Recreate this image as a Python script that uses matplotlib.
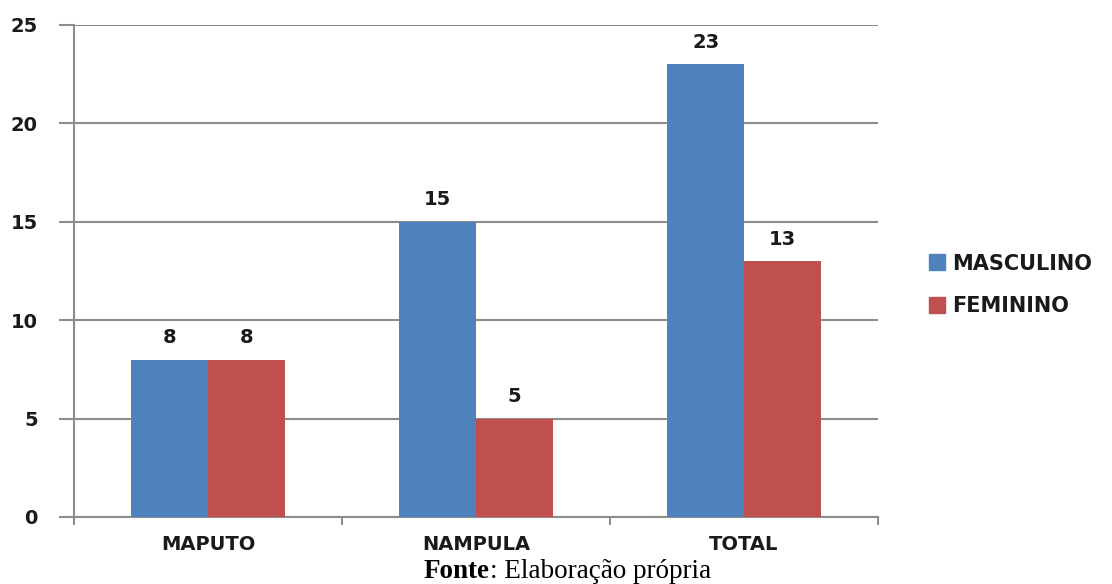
import matplotlib
matplotlib.use("Agg")
import matplotlib.pyplot as plt
import numpy as np
from matplotlib.patches import Patch

categories = ["MAPUTO", "NAMPULA", "TOTAL"]
masculino = [8, 15, 23]
feminino = [8, 5, 13]
series_names = ["MASCULINO", "FEMININO"]
yticks = [0, 5, 10, 15, 20, 25]

blue = "#4F81BD"
red = "#C0504D"
grid_c = "#8c8c8c"
txt_c = "#1a1a1a"
fs = 14

fig = plt.figure(figsize=(11.12, 5.84), dpi=100)
ax = fig.add_axes([74/1112, 1-517/584, (878-74)/1112, (517-25)/584])

x = np.arange(len(categories))
w = 0.286
b1 = ax.bar(x - w/2, masculino, w, color=blue, zorder=3)
b2 = ax.bar(x + w/2, feminino, w, color=red, zorder=3)

ax.set_xlim(-0.5, len(categories) - 0.5)
ax.set_ylim(0, 25)
ax.set_yticks(yticks)
ax.set_yticklabels([str(t) for t in yticks], fontsize=fs, fontweight="bold", color=txt_c)
ax.set_xticks(x)
ax.set_xticklabels(categories, fontsize=fs, fontweight="bold", color=txt_c)
ax.tick_params(axis="x", length=0, pad=13)
ax.tick_params(axis="y", length=11, width=1.5, color=grid_c, pad=15)
ax.set_xticks(np.arange(-0.5, len(categories), 1), minor=True)
ax.tick_params(axis="x", which="minor", length=6, width=1.5, color=grid_c)

ax.yaxis.grid(True, color=grid_c, linewidth=1.5, zorder=0)
ax.set_axisbelow(True)
for s in ["top", "right"]:
    ax.spines[s].set_visible(False)
for s in ["left", "bottom"]:
    ax.spines[s].set_color(grid_c)
    ax.spines[s].set_linewidth(1.5)

for bars, vals in [(b1, masculino), (b2, feminino)]:
    for r, v in zip(bars, vals):
        ax.annotate(str(v), (r.get_x() + r.get_width()/2, v), xytext=(0, 9),
                    textcoords="offset points", ha="center", va="bottom",
                    fontsize=fs, fontweight="bold", color=txt_c)

handles = [Patch(color=blue), Patch(color=red)]
fig.legend(handles, series_names, loc="center left", bbox_to_anchor=(910/1112, 1-285/584),
           frameon=False, handlelength=0.8, handleheight=0.8, handletextpad=0.3,
           labelspacing=1.1, prop={"size": 15, "weight": "bold"}, labelcolor=txt_c)

cy = 1 - 571/584
fig.text(490/1112, cy, "Fonte", ha="right", va="center", fontsize=19.5,
         fontweight="bold", family="Liberation Serif")
fig.text(490/1112, cy, ": Elaboração própria", ha="left", va="center", fontsize=19.5,
         family="Liberation Serif")

fig.savefig("out.png", dpi=100)
